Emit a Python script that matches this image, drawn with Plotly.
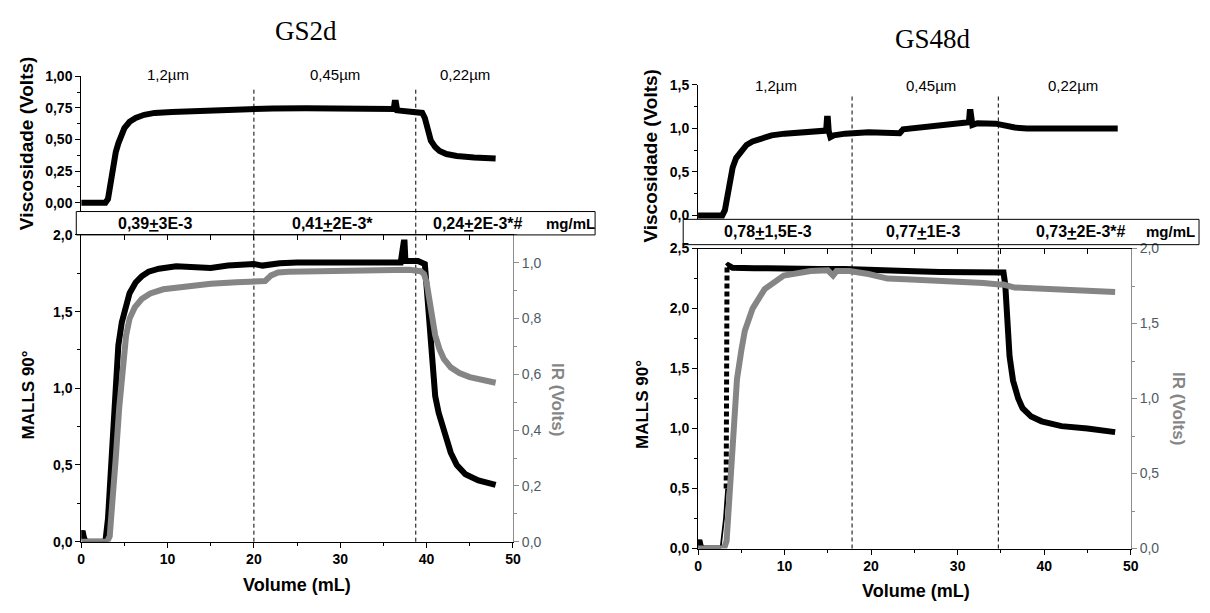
import plotly.graph_objects as go

W, H = 1210, 613

# ------------------------------------------------------------------ data
# GS2d  (left panel)
gs2d_visc_x = [0, 1, 2, 2.8, 3.1, 3.4, 3.7, 4.0, 4.3, 4.7, 5.0, 5.6, 6.3, 7.3, 8.5, 10.5, 12.9, 16, 19.9,
               21.3, 21.7, 22.2, 26, 30, 34.8, 36.2, 36.3, 36.45, 36.6, 38, 39.2, 39.5, 39.8, 40.1, 40.5,
               41, 41.5, 42.3, 43.5, 45.5, 48]
gs2d_visc_y = [0, 0, 0, 0, 0.03, 0.18, 0.31, 0.40, 0.47, 0.55, 0.59, 0.64, 0.67, 0.695, 0.71, 0.718, 0.725,
               0.732, 0.74, 0.742, 0.755, 0.745, 0.747, 0.748, 0.745, 0.74, 0.79, 0.79, 0.73, 0.725, 0.72,
               0.71, 0.67, 0.58, 0.49, 0.44, 0.41, 0.385, 0.37, 0.358, 0.35]

gs2d_malls_x = [0, 0.15, 0.3, 0.5, 1, 2, 2.8, 3.1, 3.4, 3.8, 4.3, 4.7, 5.1, 5.6, 6.3, 7.0, 7.8, 9, 11, 13,
                15, 17, 19, 20, 21, 23, 25, 28, 31, 34, 37, 37.35, 37.45, 37.55, 37.8, 39, 39.8, 40.1,
                40.4, 40.7, 41.0, 41.4, 41.8, 42.3, 42.8, 43.5, 44.5, 46, 48]
gs2d_malls_y = [0.05, 0.07, 0.03, 0, 0, 0, 0, 0.15, 0.45, 0.85, 1.28, 1.43, 1.53, 1.62, 1.69, 1.73, 1.76,
                1.78, 1.795, 1.79, 1.785, 1.80, 1.81, 1.81, 1.80, 1.815, 1.82, 1.82, 1.825, 1.82, 1.82,
                1.95, 1.95, 1.83, 1.83, 1.83, 1.81, 1.6, 1.3, 1.1, 0.95, 0.84, 0.76, 0.67, 0.58, 0.5,
                0.44, 0.4, 0.37]

gs2d_ir_x = [0, 1, 2, 3.0, 3.3, 3.6, 4.0, 4.4, 4.8, 5.2, 5.6, 6.2, 7.0, 8.0, 9.5, 12, 15, 18, 20, 21.3,
             22.0, 22.8, 24, 27, 30, 33, 36, 38, 39.3, 39.7, 40.0, 40.3, 40.6, 41.0, 41.5, 42.0, 42.8,
             43.8, 45, 46.5, 48]
gs2d_ir_y = [0, 0, 0, 0, 0.02, 0.12, 0.3, 0.48, 0.63, 0.74, 0.8, 0.84, 0.87, 0.89, 0.905, 0.915, 0.925,
             0.93, 0.93, 0.935, 0.955, 0.965, 0.968, 0.97, 0.972, 0.975, 0.977, 0.975, 0.97, 0.96, 0.93,
             0.87, 0.81, 0.74, 0.69, 0.655, 0.625, 0.605, 0.59, 0.58, 0.57]

gs2d_filter_edges = [20.0, 38.75]
gs2d_filter_label_x = [10.0, 29.4, 44.4]
gs2d_conc = ["0,39<u>+</u>3E-3", "0,41<u>+</u>2E-3*", "0,24<u>+</u>2E-3*#"]

# GS48d (right panel)
gs48d_visc_x = [0, 1, 2, 2.8, 3.1, 3.4, 3.7, 4.0, 4.4, 5.0, 5.6, 6.3, 7.3, 8.5, 10, 11.7, 13.5, 14.8,
                14.9, 15.0, 15.1, 15.3, 15.7, 17, 19.7, 22.8, 23.3, 23.7, 26, 28.6, 31.1, 31.3, 31.4,
                31.5, 31.7, 32.3, 34.4, 36.6, 38, 39.7, 42, 45, 48.5]
gs48d_visc_y = [0, 0, 0, 0, 0.06, 0.25, 0.42, 0.55, 0.66, 0.75, 0.81, 0.85, 0.89, 0.92, 0.94, 0.955, 0.965,
                0.975, 1.11, 1.11, 0.97, 0.9, 0.92, 0.94, 0.955, 0.955, 0.945, 0.99, 1.01, 1.035, 1.06,
                1.07, 1.19, 1.19, 1.04, 1.06, 1.055, 1.01, 1.0, 0.995, 1.0, 1.0, 1.0]

gs48d_malls_base_x = [0, 0.15, 0.3, 0.6, 1.5, 2.6]
gs48d_malls_base_y = [0.03, 0.07, 0.02, 0, 0, 0]
gs48d_malls_rise_x = [2.6, 3.0, 3.25]
gs48d_malls_rise_y = [0, 0.25, 0.5]
gs48d_malls_jump_x = [3.25, 3.3, 3.35]
gs48d_malls_jump_y = [0.5, 1.4, 2.35]
gs48d_malls_x = [3.35, 3.5, 4, 5, 6.5, 8, 10, 12, 14, 17, 20, 22, 25, 28, 31, 33, 35.3, 35.5, 35.7, 36.0,
                 36.4, 37.0, 37.5, 38.5, 39.7, 42, 45, 48.2]
gs48d_malls_y = [2.35, 2.36, 2.34, 2.335, 2.335, 2.335, 2.33, 2.33, 2.33, 2.33, 2.32, 2.31, 2.31, 2.305,
                 2.30, 2.30, 2.30, 2.2, 1.85, 1.6, 1.4, 1.25, 1.17, 1.1, 1.06, 1.02, 1.0, 0.97]

gs48d_ir_x = [0, 1, 2, 3.0, 3.3, 3.65, 4.1, 4.5, 5.0, 5.4, 6.3, 7.7, 9.9, 13, 15, 15.6, 16, 17.5, 19.7,
              21.9, 24, 26.4, 30, 33, 34.8, 35.3, 36.6, 39, 42, 45, 48.2]
gs48d_ir_y = [0, 0, 0, 0, 0.05, 0.36, 0.8, 1.13, 1.32, 1.45, 1.6, 1.73, 1.82, 1.85, 1.855, 1.82, 1.85,
              1.85, 1.83, 1.8, 1.795, 1.79, 1.78, 1.77, 1.76, 1.76, 1.74, 1.735, 1.73, 1.72, 1.71]

gs48d_filter_edges = [17.8, 34.7]
gs48d_filter_label_px = [780, 936, 1080]
gs48d_conc = ["0,78<u>+</u>1,5E-3", "0,77<u>+</u>1E-3", "0,73<u>+</u>2E-3*#"]

filter_labels = ["1,2µm", "0,45µm", "0,22µm"]
conc_unit = "mg/mL"

# ------------------------------------------------------------------ helpers
def px(x):
    return x / W


def py(y):
    return 1 - y / H


SANS = "Liberation Sans"
SERIF = "Liberation Serif"
BLACK = "#000000"
GREY = "#858585"
IRTICK = "#4e5a66"
LW = 6

fig = go.Figure()


def line(x, y, xa, ya, color, width, dash=None):
    fig.add_trace(go.Scatter(x=x, y=y, xaxis=xa, yaxis=ya, mode="lines",
                             line=dict(color=color, width=width, dash=dash),
                             hoverinfo="skip", showlegend=False))


# left panel traces
line(gs2d_visc_x, gs2d_visc_y, "x2", "y3", BLACK, LW)
line(gs2d_malls_x, gs2d_malls_y, "x", "y", BLACK, LW)
line(gs2d_ir_x, gs2d_ir_y, "x", "y2", GREY, LW)

# right panel traces
line(gs48d_visc_x, gs48d_visc_y, "x5", "y6", BLACK, LW)
line(gs48d_malls_base_x, gs48d_malls_base_y, "x4", "y4", BLACK, LW)
line(gs48d_ir_x, gs48d_ir_y, "x4", "y5", GREY, LW)
line(gs48d_malls_rise_x, gs48d_malls_rise_y, "x4", "y4", BLACK, 1.8)
line(gs48d_malls_jump_x, gs48d_malls_jump_y, "x4", "y4", BLACK, 5, dash="5px,3px")
line(gs48d_malls_x, gs48d_malls_y, "x4", "y4", BLACK, LW)

# dummy traces so the mirrored top axes are drawn
for xa, ya in (("x3", "y"), ("x6", "y4")):
    fig.add_trace(go.Scatter(x=[None], y=[None], xaxis=xa, yaxis=ya, mode="lines",
                             hoverinfo="skip", showlegend=False))

tickfont = dict(family=SANS, size=14, color=BLACK, weight="bold")
irfont = dict(family=SANS, size=14, color=IRTICK)


def xaxis(domain, visible=True):
    return dict(domain=domain, range=[0, 50], tick0=0, dtick=10, tickformat="d",
                ticks="outside", ticklen=5, tickwidth=1, tickcolor=BLACK,
                minor=dict(ticks="outside", ticklen=3, dtick=5, tick0=0, tickcolor=BLACK),
                showline=True, linecolor=BLACK, linewidth=1, showgrid=False, zeroline=False,
                tickfont=tickfont, visible=visible, fixedrange=True)


def topmirror(over, anchor, domain):
    return dict(domain=domain, range=[0, 50], overlaying=over, anchor=anchor, side="top",
                tick0=0, dtick=5, ticks="inside", ticklen=5, tickwidth=1, tickcolor=BLACK,
                showticklabels=False, showline=True, linecolor=BLACK, linewidth=1,
                showgrid=False, zeroline=False)


def yaxis(domain, rng, dtick, fmt, anchor, minor):
    return dict(domain=domain, range=rng, tick0=0, dtick=dtick, tickformat=fmt, anchor=anchor,
                ticks="outside", ticklen=5, tickwidth=1, tickcolor=BLACK,
                minor=dict(ticks="outside", ticklen=3, dtick=minor, tick0=0, tickcolor=BLACK),
                showline=True, linecolor=BLACK, linewidth=1, showgrid=False, zeroline=False,
                tickfont=tickfont)


def iraxis(over, anchor, rng, dtick, minor):
    return dict(overlaying=over, anchor=anchor, side="right", range=rng, tick0=0, dtick=dtick,
                tickformat=".1f", ticks="outside", ticklen=5, tickwidth=1, tickcolor="#8c8c8c",
                minor=dict(ticks="outside", ticklen=3, dtick=minor, tick0=0, tickcolor="#8c8c8c"),
                showline=True, linecolor="#8c8c8c", linewidth=1.3, showgrid=False, zeroline=False,
                tickfont=irfont)


LX = [px(78), px(514)]
RX = [px(701), px(1138)]
L_BOT = [py(548), py(233)]
L_TOP = [py(209), py(70)]
R_BOT = [py(555), py(247)]
R_TOP = [py(217), py(79)]

fig.update_layout(
    width=W, height=H, margin=dict(l=0, r=0, t=0, b=0),
    paper_bgcolor="white", plot_bgcolor="rgba(0,0,0,0)",
    separators=", ", showlegend=False,
    xaxis=xaxis(LX), yaxis=yaxis(L_BOT, [0, 2.0], 0.5, ".1f", "x", 0.25),
    yaxis2=iraxis("y", "x", [0, 1.1], 0.2, 0.1),
    xaxis2=dict(xaxis(LX, visible=False), anchor="y3"),
    yaxis3=yaxis(L_TOP, [-0.069, 1.0], 0.25, ".2f", "x2", 0.125),
    xaxis3=topmirror("x", "y", LX),
    xaxis4=dict(xaxis(RX), anchor="y4"),
    yaxis4=yaxis(R_BOT, [0, 2.5], 0.5, ".1f", "x4", 0.25),
    yaxis5=iraxis("y4", "x4", [0, 2.0], 0.5, 0.25),
    xaxis5=dict(xaxis(RX, visible=False), anchor="y6"),
    yaxis6=yaxis(R_TOP, [-0.045, 1.5], 0.5, ".1f", "x5", 0.25),
    xaxis6=topmirror("x4", "y4", RX),
)

# ------------------------------------------------------------------ shapes
shapes = []
for xv in gs2d_filter_edges:
    shapes.append(dict(type="line", xref="x", yref="paper", x0=xv, x1=xv, y0=py(548), y1=py(82),
                       line=dict(color=BLACK, width=1, dash="4px,3px"), layer="below"))
for xv in gs48d_filter_edges:
    shapes.append(dict(type="line", xref="x4", yref="paper", x0=xv, x1=xv, y0=py(555), y1=py(88),
                       line=dict(color=BLACK, width=1, dash="4px,3px"), layer="below"))
shapes.append(dict(type="rect", xref="paper", yref="paper", x0=px(73), x1=px(597), y0=py(233),
                   y1=py(209), line=dict(color=BLACK, width=1)))
shapes.append(dict(type="rect", xref="paper", yref="paper", x0=px(686), x1=px(1207), y0=py(243),
                   y1=py(217), line=dict(color=BLACK, width=1)))
fig.update_layout(shapes=shapes)

# ------------------------------------------------------------------ annotations
ann = []


def text(t, x, y, size, color=BLACK, family=SANS, weight="bold", angle=0, xref="paper"):
    ann.append(dict(text=t, x=x, y=py(y), xref=xref, yref="paper", showarrow=False,
                    xanchor="center", yanchor="middle", textangle=angle,
                    font=dict(family=family, size=size, color=color, weight=weight)))


# left panel
text("GS2d", px(305), 24, 27, family=SERIF, weight="normal")
for lab, xv in zip(filter_labels, gs2d_filter_label_x):
    text(lab, xv, 68, 15, weight="normal", xref="x")
for lab, xp in zip(gs2d_conc + [conc_unit], [153, 332, 479, 572]):
    text(lab, px(xp), 221, 16 if lab != conc_unit else 15)
text("Viscosidade (Volts)", px(23), 139, 19, angle=-90)
text("MALLS 90°", px(25), 397, 17, angle=-90)
text("IR (Volts)", px(559), 402, 17, color=GREY, angle=90)
text("Volume (mL)", px(296), 592, 18)

# right panel
text("GS48d", px(938), 32, 27, family=SERIF, weight="normal")
for lab, xp in zip(filter_labels, gs48d_filter_label_px):
    text(lab, px(xp), 80, 15, weight="normal")
for lab, xp in zip(gs48d_conc + [conc_unit], [772, 928, 1088, 1178]):
    text(lab, px(xp), 230, 16 if lab != conc_unit else 15)
text("Viscosidade (Volts)", px(652), 152, 19, angle=-90)
text("MALLS 90°", px(645), 407, 17, angle=-90)
text("IR (Volts)", px(1186), 411, 17, color=GREY, angle=90)
text("Volume (mL)", px(921), 599, 18)

fig.update_layout(annotations=ann)

fig.write_html("out.html")
